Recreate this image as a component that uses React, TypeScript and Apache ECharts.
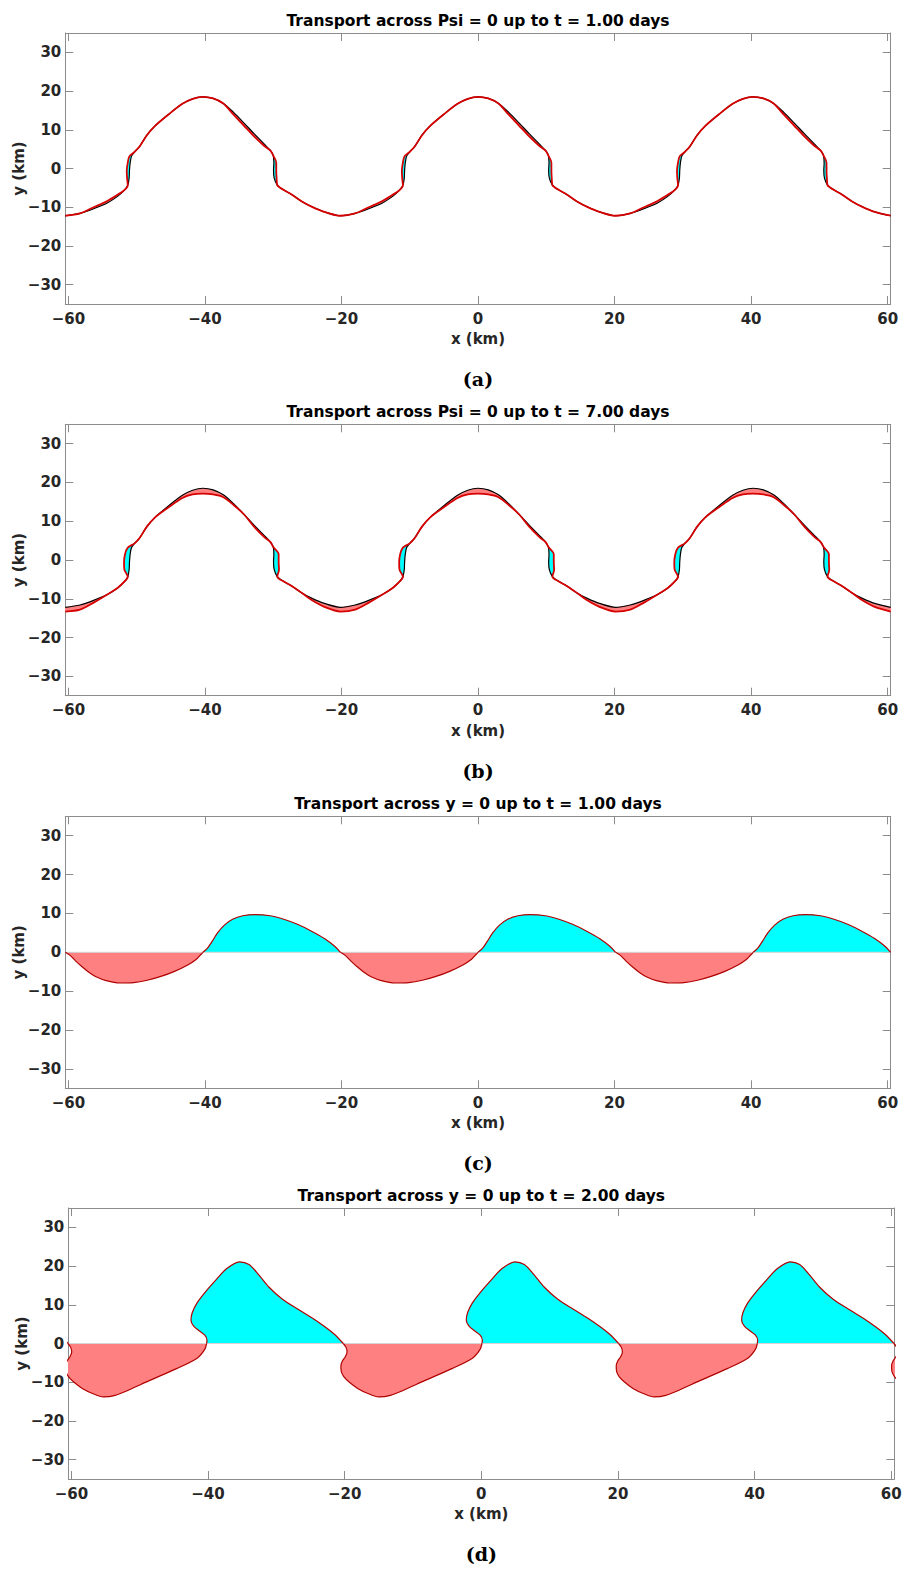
import React, { useEffect, useRef } from "react";
import * as echarts from "echarts";

// ---------------- axes / texts ----------------
const xLimits = [-60.45, 60.45];
const yLimits = [-35, 35];
const xTickValues = [-60, -40, -20, 0, 20, 40, 60];
const yTickValues = [-30, -20, -10, 0, 10, 20, 30];

const panelTitles = [
  "Transport across Psi = 0 up to t = 1.00 days",
  "Transport across Psi = 0 up to t = 7.00 days",
  "Transport across y = 0 up to t = 1.00 days",
  "Transport across y = 0 up to t = 2.00 days",
];
const panelCaptions = ["(a)", "(b)", "(c)", "(d)"];
const xAxisName = "x (km)";
const yAxisName = "y (km)";

// ---------------- panels (a),(b): Psi = 0 streamline, one meander period ----------------
const meanderShifts = [-40.3, 0, 40.3];

const psiInitialX = [-20.15, -18, -16, -14, -12.5, -11.5, -11.0, -10.8, -10.75, -10.65, -10.45, -10.0, -9.3, -8.2, -7.0, -5.0, -3.0, -1.5, 0, 1.5, 3.0, 4.5, 6.0, 7.5, 9.0, 9.9, 10.3, 10.4, 10.35, 10.45, 10.9, 11.8, 13.0, 14.5, 16.0, 17.8, 20.15];
const psiInitialY = [-12.2, -11.6, -10.4, -8.9, -7.2, -5.6, -4.3, -2.5, -0.5, 1.5, 3.2, 4.3, 5.6, 8.6, 11.0, 14.0, 16.7, 18.0, 18.5, 18.1, 16.8, 14.5, 11.8, 9.0, 6.3, 4.6, 3.4, 1.5, -0.5, -2.5, -4.3, -5.5, -6.7, -8.5, -9.9, -11.2, -12.2];

const psiDay1X = [-20.15, -18, -16, -14, -12.5, -11.5, -11.0, -11.1, -11.15, -11.0, -10.75, -10.0, -9.3, -8.2, -7.0, -5.0, -3.0, -1.5, 0, 1.5, 3.0, 4.5, 6.0, 7.5, 9.0, 9.9, 10.3, 10.75, 10.75, 10.8, 10.9, 11.8, 13.0, 14.5, 16.0, 17.8, 20.15];
const psiDay1Y = [-12.2, -11.6, -10.0, -8.4, -6.8, -5.6, -4.3, -2.5, -0.5, 1.5, 3.2, 4.3, 5.6, 8.6, 11.0, 14.0, 16.7, 18.0, 18.5, 18.1, 16.8, 13.9, 11.1, 8.3, 5.8, 4.6, 3.4, 1.5, -0.5, -2.5, -4.3, -5.5, -6.7, -8.5, -9.9, -11.2, -12.2];

const psiDay7X = [-20.15, -18, -16, -14, -12.5, -11.5, -11.0, -11.5, -11.55, -11.4, -11.0, -10.0, -9.3, -8.2, -7.0, -5.0, -3.0, -1.5, 0, 1.5, 3.0, 4.5, 6.0, 7.5, 9.0, 9.9, 10.3, 11.1, 11.1, 11.15, 10.9, 11.8, 13.0, 14.5, 16.0, 17.8, 20.15];
const psiDay7Y = [-13.3, -12.8, -11.0, -8.9, -7.2, -5.6, -4.3, -2.5, -0.5, 1.5, 3.2, 4.3, 5.6, 8.6, 11.0, 13.6, 16.0, 16.9, 17.1, 16.9, 16.2, 14.2, 11.8, 8.6, 5.9, 4.6, 3.4, 1.5, -0.5, -2.5, -4.3, -5.5, -6.7, -8.5, -10.4, -12.1, -13.3];

// [first point index, last point index, region kind]
const day1Regions = [[1, 5, "gain"], [6, 11, "loss"], [20, 25, "gain"], [26, 30, "loss"]];
const day7Regions = [[0, 3, "gain"], [6, 11, "loss"], [14, 22, "gain"], [22, 25, "gain"], [26, 30, "loss"], [33, 36, "gain"]];

// ---------------- panel (c): lobes relative to their period start ----------------
const lobeShiftsC = [-60.45, -20.15, 20.15];
const cSouthX = [0, 0.7, 1.5, 2.5, 3.5, 4.5, 6, 8, 10, 12, 14, 16, 18, 19.2, 19.9, 20.15];
const cSouthY = [0, -0.8, -2.2, -3.8, -5.2, -6.3, -7.3, -7.9, -7.8, -7.2, -6.2, -4.9, -3.2, -1.8, -0.5, 0];
const cNorthX = [20.15, 20.8, 21.5, 22.3, 23.3, 24.5, 26, 27.8, 30, 32, 34, 36, 38, 39.5, 40.3];
const cNorthY = [0, 1.0, 2.8, 5.0, 7.0, 8.5, 9.4, 9.7, 9.4, 8.5, 7.2, 5.5, 3.5, 1.5, 0];

// ---------------- panel (d) ----------------
const lobeShiftsD = [-80.6, -40.3, 0, 40.3];
const dNorthX = [0.1, 0.15, -0.2, -1.0, -1.8, -2.2, -2.0, -1.3, -0.1, 1.5, 3.0, 4.9, 6.3, 7.7, 9.2, 11.15, 13.6, 15.55, 17.2, 18.8, 20.1];
const dNorthY = [0, 0.9, 2.2, 3.3, 4.5, 6.0, 8.0, 10.5, 13.3, 16.5, 19.3, 21.1, 20.4, 17.8, 14.6, 11.5, 8.7, 6.6, 4.6, 2.4, 0];
const dSouthX = [20.1, 20.5, 20.65, 20.4, 20.0, 19.75, 19.8, 20.2, 21.0, 22.2, 23.7, 25.3, 27.0, 29.0, 32.0, 36.0, 39.0, 40.1, 40.4];
const dSouthY = [0, -1.0, -2.2, -3.4, -4.4, -5.8, -7.2, -8.6, -10.0, -11.6, -12.9, -13.8, -13.4, -12.0, -9.6, -6.5, -3.8, -1.6, 0];

// ---------------- style ----------------
const COLORS = {
  gain: "#ff8080",
  loss: "#00ffff",
  red: "#d60000",
  edge: "#b00000",
  black: "#000000",
  frame: "#8c8c8c",
  tickText: "#262626",
  zeroLine: "#d4d4d4",
};
const FONT = "DejaVu Sans";

const layout = [
  { left: 65.3, top: 33, width: 825.4, height: 271 },
  { left: 65.3, top: 424.3, width: 825.4, height: 271.4 },
  { left: 65.3, top: 816.3, width: 825.4, height: 272 },
  { left: 68.3, top: 1208, width: 826, height: 271 },
];

const fmt = (v: number) => (v < 0 ? "\u2212" + Math.abs(v) : String(v));

function shiftedCurve(xs: number[], ys: number[], shifts: number[]) {
  const out: number[][] = [];
  shifts.forEach((s, k) => {
    xs.forEach((x, i) => {
      if (k > 0 && i === 0) return;
      out.push([x + s, ys[i]]);
    });
  });
  return out;
}

function lobe(xs: number[], ys: number[], s: number) {
  return xs.map((x, i) => [x + s, ys[i]]);
}

function regionPolys(bx: number[], by: number[], mx: number[], my: number[], regions: any[], shifts: number[]) {
  const polys: { pts: number[][]; color: string }[] = [];
  shifts.forEach((s) => {
    regions.forEach(([a, b, kind]) => {
      const pts: number[][] = [];
      for (let i = a; i <= b; i++) pts.push([bx[i] + s, by[i]]);
      for (let i = b; i >= a; i--) pts.push([mx[i] + s, my[i]]);
      polys.push({ pts, color: (COLORS as any)[kind] });
    });
  });
  return polys;
}

function buildOption() {
  const grid: any[] = [];
  const xAxis: any[] = [];
  const yAxis: any[] = [];
  const series: any[] = [];
  const graphic: any[] = [];

  layout.forEach((g, p) => {
    grid.push({ left: g.left, top: g.top, width: g.width, height: g.height, containLabel: false, outerBoundsMode: "none" });
    const lineStyle = { color: COLORS.frame, width: 1 };
    ["bottom", "top"].forEach((pos) => {
      xAxis.push({
        type: "value",
        gridIndex: p,
        position: pos,
        min: xLimits[0],
        max: xLimits[1],
        axisLine: { show: true, onZero: false, lineStyle },
        axisTick: { show: true, inside: true, length: 8, customValues: xTickValues, lineStyle },
        axisLabel: {
          show: pos === "bottom",
          customValues: xTickValues,
          formatter: fmt,
          color: COLORS.tickText,
          fontFamily: FONT,
          fontWeight: "bold",
          fontSize: 15,
          margin: 7,
        },
        splitLine: { show: false },
      });
    });
    ["left", "right"].forEach((pos) => {
      yAxis.push({
        type: "value",
        gridIndex: p,
        position: pos,
        min: yLimits[0],
        max: yLimits[1],
        axisLine: { show: true, onZero: false, lineStyle },
        axisTick: { show: true, inside: true, length: 8, customValues: yTickValues, lineStyle },
        axisLabel: {
          show: pos === "left",
          customValues: yTickValues,
          formatter: fmt,
          color: COLORS.tickText,
          fontFamily: FONT,
          fontWeight: "bold",
          fontSize: 15,
          margin: 4,
        },
        splitLine: { show: false },
      });
    });

    const cx = g.left + g.width / 2;
    const textStyle = { fontFamily: FONT, fontWeight: "bold", fontSize: 15, align: "center", verticalAlign: "middle" };
    graphic.push({ type: "text", x: cx, y: g.top - 12, z: 50, style: { ...textStyle, fontSize: 15.5, text: panelTitles[p], fill: "#000" } });
    graphic.push({ type: "text", x: cx, y: g.top + g.height + 35, z: 50, style: { ...textStyle, text: xAxisName, fill: COLORS.tickText } });
    graphic.push({ type: "text", x: g.left - 46, y: g.top + g.height / 2, rotation: Math.PI / 2, z: 50, style: { ...textStyle, text: yAxisName, fill: COLORS.tickText } });
    graphic.push({
      type: "text",
      x: cx,
      y: g.top + g.height + 75,
      z: 50,
      style: { text: panelCaptions[p], fill: "#000", fontFamily: "DejaVu Serif", fontWeight: "bold", fontSize: 19, align: "center", verticalAlign: "middle" },
    });
  });

  const axisRef = (p: number) => ({ xAxisIndex: 2 * p, yAxisIndex: 2 * p });

  // panels a, b
  [
    { p: 0, mx: psiDay1X, my: psiDay1Y, regions: day1Regions },
    { p: 1, mx: psiDay7X, my: psiDay7Y, regions: day7Regions },
  ].forEach(({ p, mx, my, regions }) => {
    const polys = regionPolys(psiInitialX, psiInitialY, mx, my, regions, meanderShifts);
    series.push({
      type: "custom",
      ...axisRef(p),
      clip: true,
      silent: true,
      z: 1,
      data: polys.map((q) => q.pts[0]),
      renderItem: (params: any, api: any) => {
        const q = polys[params.dataIndex];
        return {
          type: "polygon",
          shape: { points: q.pts.map((pt) => api.coord(pt)), smooth: 0.2 },
          style: { fill: q.color, stroke: null },
        };
      },
    });
    series.push({
      type: "line",
      ...axisRef(p),
      data: shiftedCurve(psiInitialX, psiInitialY, meanderShifts),
      showSymbol: false,
      smooth: 0.3,
      clip: true,
      silent: true,
      z: 2,
      lineStyle: { color: COLORS.black, width: 1.2 },
    });
    series.push({
      type: "line",
      ...axisRef(p),
      data: shiftedCurve(mx, my, meanderShifts),
      showSymbol: false,
      smooth: 0.3,
      clip: true,
      silent: true,
      z: 3,
      lineStyle: { color: COLORS.red, width: 1.8 },
    });
  });

  // panels c, d
  const lobePanels = [
    { p: 2, shifts: lobeShiftsC, lobes: [[cSouthX, cSouthY, "gain"], [cNorthX, cNorthY, "loss"]] },
    { p: 3, shifts: lobeShiftsD, lobes: [[dNorthX, dNorthY, "loss"], [dSouthX, dSouthY, "gain"]] },
  ];
  lobePanels.forEach(({ p, shifts, lobes }) => {
    const all: { data: number[][]; color: string }[] = [];
    shifts.forEach((s) => {
      lobes.forEach(([xs, ys, kind]: any) => {
        all.push({ data: lobe(xs, ys, s), color: (COLORS as any)[kind] });
      });
    });
    all.forEach((l) => {
      series.push({
        type: "line",
        ...axisRef(p),
        data: l.data,
        showSymbol: false,
        smooth: 0.3,
        clip: true,
        silent: true,
        z: 1,
        lineStyle: { width: 0, opacity: 0 },
        areaStyle: { color: l.color, opacity: 1 },
      });
    });
    series.push({
      type: "line",
      ...axisRef(p),
      data: [[xLimits[0], 0], [xLimits[1], 0]],
      showSymbol: false,
      clip: true,
      silent: true,
      z: 2,
      lineStyle: { color: COLORS.zeroLine, width: 1 },
    });
    all.forEach((l) => {
      series.push({
        type: "line",
        ...axisRef(p),
        data: l.data,
        showSymbol: false,
        smooth: 0.3,
        clip: true,
        silent: true,
        z: 3,
        lineStyle: { color: COLORS.edge, width: 1.2 },
      });
    });
  });

  return {
    animation: false,
    backgroundColor: "#ffffff",
    grid,
    xAxis,
    yAxis,
    series,
    graphic,
  };
}

export default function App() {
  const ref = useRef<HTMLDivElement>(null);
  useEffect(() => {
    if (!ref.current) return;
    const chart = echarts.init(ref.current, null, { renderer: "svg" });
    chart.setOption(buildOption() as any);
    return () => chart.dispose();
  }, []);
  return (
    <div
      ref={ref}
      style={{ position: "absolute", left: 0, top: 0, width: 903, height: 1570, background: "#fff" }}
    />
  );
}
